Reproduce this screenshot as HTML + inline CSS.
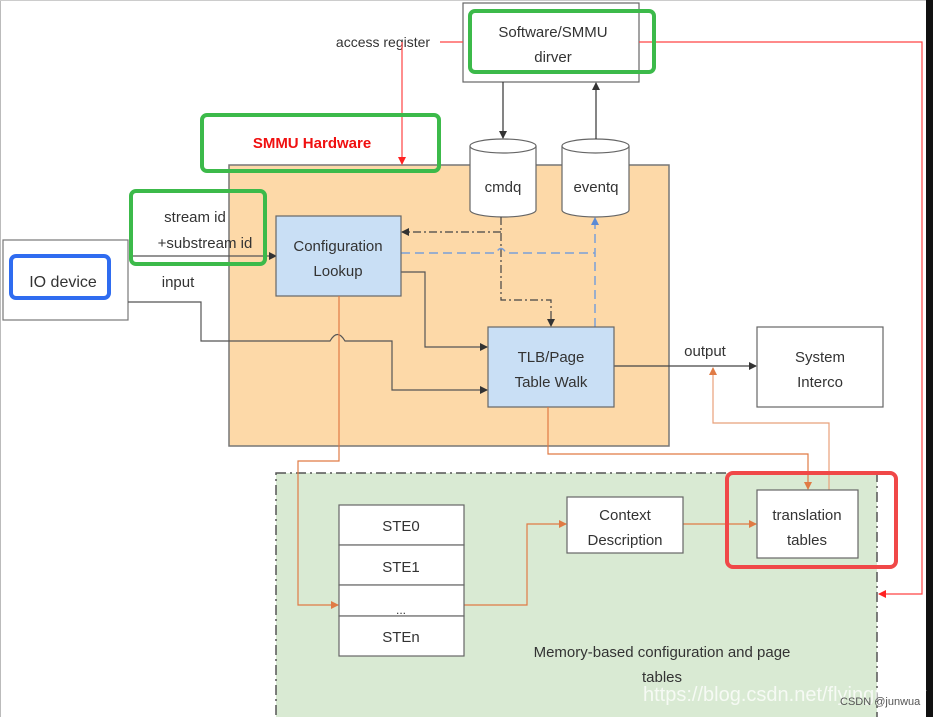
<!DOCTYPE html>
<html><head><meta charset="utf-8"><style>
body{margin:0;background:#fff;}
svg{display:block;font-family:"Liberation Sans",sans-serif;}
</style></head><body>
<svg width="933" height="717" viewBox="0 0 933 717" xmlns="http://www.w3.org/2000/svg">
<defs>
<marker id="ab" markerWidth="8" markerHeight="8" refX="7" refY="4" orient="auto" markerUnits="userSpaceOnUse"><path d="M0,0 L8,4 L0,8 z" fill="#333"/></marker>
<marker id="ao" markerWidth="8" markerHeight="8" refX="7" refY="4" orient="auto" markerUnits="userSpaceOnUse"><path d="M0,0 L8,4 L0,8 z" fill="#e07b45"/></marker>
<marker id="ar" markerWidth="8" markerHeight="8" refX="7" refY="4" orient="auto" markerUnits="userSpaceOnUse"><path d="M0,0 L8,4 L0,8 z" fill="#f22"/></marker>
<marker id="abl" markerWidth="8" markerHeight="8" refX="7" refY="4" orient="auto" markerUnits="userSpaceOnUse"><path d="M0,0 L8,4 L0,8 z" fill="#5b8bd6"/></marker>
</defs>
<rect x="0" y="0" width="933" height="717" fill="#fff"/>
<line x1="0.5" y1="0" x2="0.5" y2="717" stroke="#bbb"/>
<line x1="0" y1="0.5" x2="926" y2="0.5" stroke="#ccc"/>
<rect x="926" y="0" width="7" height="717" fill="#111"/>

<!-- memory area -->
<rect x="276" y="473" width="601" height="250" fill="#d9ead3" stroke="#555" stroke-width="1.5" stroke-dasharray="10,4,2,4"/>
<!-- orange hardware -->
<rect x="229" y="165" width="440" height="281" fill="#fdd9a8" stroke="#777" stroke-width="1.5"/>

<!-- software box -->
<rect x="463" y="3" width="176" height="79" fill="#fff" stroke="#666" stroke-width="1.2"/>
<text x="553" y="37" font-size="15" text-anchor="middle" fill="#333">Software/SMMU</text>
<text x="553" y="62" font-size="15" text-anchor="middle" fill="#333">dirver</text>

<!-- red lines -->
<text x="383" y="47" font-size="14" text-anchor="middle" fill="#333">access register</text>
<line x1="440" y1="42" x2="463" y2="42" stroke="#f44" stroke-width="1.2"/>
<line x1="402" y1="42" x2="402" y2="164" stroke="#f44" stroke-width="1.2" marker-end="url(#ar)"/>
<polyline points="639,42 922,42 922,594 879,594" fill="none" stroke="#f44" stroke-width="1.2" marker-end="url(#ar)"/>

<!-- cylinders -->
<g fill="#fff" stroke="#666" stroke-width="1.2">
<path d="M470,146 L470,210 A33,7 0 0 0 536,210 L536,146"/>
<ellipse cx="503" cy="146" rx="33" ry="7"/>
<path d="M562,146 L562,210 A33.5,7 0 0 0 629,210 L629,146"/>
<ellipse cx="595.5" cy="146" rx="33.5" ry="7"/>
</g>
<text x="503" y="192" font-size="15" text-anchor="middle" fill="#333">cmdq</text>
<text x="596" y="192" font-size="15" text-anchor="middle" fill="#333">eventq</text>
<line x1="503" y1="82" x2="503" y2="138" stroke="#333" stroke-width="1.2" marker-end="url(#ab)"/>
<line x1="596" y1="139" x2="596" y2="83" stroke="#333" stroke-width="1.2" marker-end="url(#ab)"/>

<!-- SMMU label -->
<text x="312" y="148" font-size="15" font-weight="bold" text-anchor="middle" fill="#f01010">SMMU Hardware</text>

<!-- IO device -->
<rect x="3" y="240" width="125" height="80" fill="#fff" stroke="#777" stroke-width="1.2"/>
<text x="63" y="287" font-size="16" text-anchor="middle" fill="#333">IO device</text>
<text x="195" y="222" font-size="15" text-anchor="middle" fill="#333">stream id</text>
<text x="205" y="248" font-size="15" text-anchor="middle" fill="#333">+substream id</text>
<text x="178" y="287" font-size="15" text-anchor="middle" fill="#333">input</text>
<line x1="130" y1="256" x2="276" y2="256" stroke="#555" stroke-width="1.2" marker-end="url(#ab)"/>

<!-- black connectors -->
<path d="M128,302 L201,302 L201,341 L330,341 Q337.5,328 345,341 L392,341 L392,390 L487,390" fill="none" stroke="#555" stroke-width="1.2" marker-end="url(#ab)"/>
<polyline points="401,272 425,272 425,347 487,347" fill="none" stroke="#555" stroke-width="1.2" marker-end="url(#ab)"/>
<polyline points="501,217 501,300 551,300 551,326" fill="none" stroke="#444" stroke-width="1.2" stroke-dasharray="8,3,2,3" marker-end="url(#ab)"/>
<line x1="501" y1="232" x2="402" y2="232" stroke="#444" stroke-width="1.2" stroke-dasharray="8,3,2,3" marker-end="url(#ab)"/>
<path d="M401,253 L496,253 Q501,244 506,253 L595,253 M595,327 L595,218" fill="none" stroke="#7a9fd8" stroke-width="1.5" stroke-dasharray="9,5" marker-end="url(#abl)"/>
<line x1="614" y1="366" x2="756" y2="366" stroke="#444" stroke-width="1.2" marker-end="url(#ab)"/>
<text x="705" y="356" font-size="15" text-anchor="middle" fill="#333">output</text>

<!-- blue boxes -->
<rect x="276" y="216" width="125" height="80" fill="#c9dff5" stroke="#666" stroke-width="1.2"/>
<text x="338" y="251" font-size="15" text-anchor="middle" fill="#333">Configuration</text>
<text x="338" y="276" font-size="15" text-anchor="middle" fill="#333">Lookup</text>
<rect x="488" y="327" width="126" height="80" fill="#c9dff5" stroke="#666" stroke-width="1.2"/>
<text x="551" y="362" font-size="15" text-anchor="middle" fill="#333">TLB/Page</text>
<text x="551" y="387" font-size="15" text-anchor="middle" fill="#333">Table Walk</text>
<rect x="757" y="327" width="126" height="80" fill="#fff" stroke="#666" stroke-width="1.2"/>
<text x="820" y="362" font-size="15" text-anchor="middle" fill="#333">System</text>
<text x="820" y="387" font-size="15" text-anchor="middle" fill="#333">Interco</text>

<!-- orange connectors -->
<polyline points="339,296 339,461 298,461 298,605 338,605" fill="none" stroke="#e07b45" stroke-width="1.2" marker-end="url(#ao)"/>
<polyline points="548,407 548,454 808,454 808,489" fill="none" stroke="#e07b45" stroke-width="1.2" marker-end="url(#ao)"/>
<polyline points="829,490 829,423 713,423 713,368" fill="none" stroke="#e8a07a" stroke-width="1.2" marker-end="url(#ao)"/>
<polyline points="464,605 527,605 527,524 566,524" fill="none" stroke="#e07b45" stroke-width="1.2" marker-end="url(#ao)"/>
<line x1="683" y1="524" x2="756" y2="524" stroke="#e07b45" stroke-width="1.2" marker-end="url(#ao)"/>

<!-- STE -->
<g fill="#fff" stroke="#666" stroke-width="1.2">
<rect x="339" y="505" width="125" height="40"/>
<rect x="339" y="545" width="125" height="40"/>
<rect x="339" y="585" width="125" height="31"/>
<rect x="339" y="616" width="125" height="40"/>
</g>
<g font-size="15" text-anchor="middle" fill="#333">
<text x="401" y="531">STE0</text>
<text x="401" y="572">STE1</text>
<text x="401" y="614" font-size="12">...</text>
<text x="401" y="642">STEn</text>
</g>
<rect x="567" y="497" width="116" height="56" fill="#fff" stroke="#666" stroke-width="1.2"/>
<text x="625" y="520" font-size="15" text-anchor="middle" fill="#333">Context</text>
<text x="625" y="545" font-size="15" text-anchor="middle" fill="#333">Description</text>
<rect x="757" y="490" width="101" height="68" fill="#fff" stroke="#666" stroke-width="1.2"/>
<text x="807" y="520" font-size="15" text-anchor="middle" fill="#333">translation</text>
<text x="807" y="545" font-size="15" text-anchor="middle" fill="#333">tables</text>
<text x="662" y="657" font-size="15" text-anchor="middle" fill="#333">Memory-based configuration and page</text>
<text x="662" y="682" font-size="15" text-anchor="middle" fill="#333">tables</text>
<text x="643" y="701" font-size="20" fill="#fff" fill-opacity="0.75">https://blog.csdn.net/flyingnosky</text>
<text x="840" y="705" font-size="11" fill="#555">CSDN @junwua</text>

<!-- highlight rects -->
<g fill="none" stroke-width="4">
<rect x="470" y="11" width="184" height="61" rx="5" stroke="#3cba4a"/>
<rect x="202" y="115" width="237" height="56" rx="5" stroke="#3cba4a"/>
<rect x="131" y="191" width="134" height="73" rx="5" stroke="#3cba4a"/>
<rect x="11" y="256" width="98" height="42" rx="5" stroke="#2f6cf0"/>
<rect x="727" y="473" width="169" height="94" rx="6" stroke="#f04848"/>
</g>
</svg>
</body></html>
